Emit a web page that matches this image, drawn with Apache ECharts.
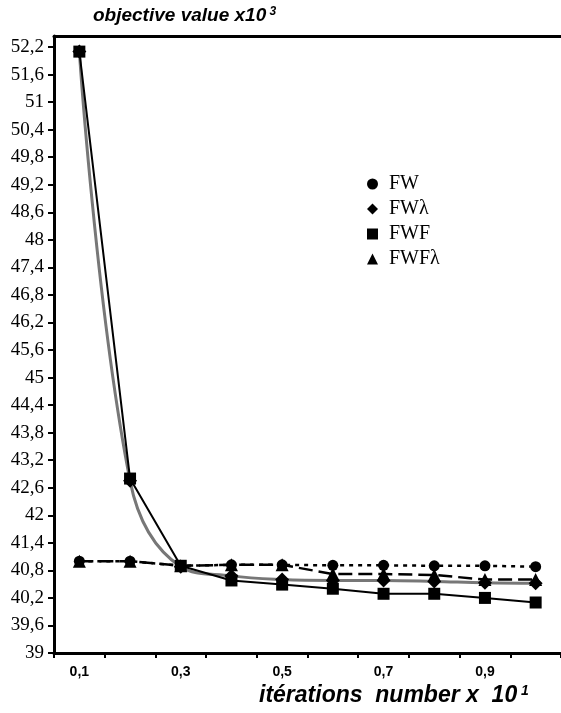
<!DOCTYPE html>
<html>
<head>
<meta charset="utf-8">
<script src="https://cdn.jsdelivr.net/npm/echarts@6/dist/echarts.min.js"></script>
<style>
html,body{margin:0;padding:0;background:#fff;}
#chart{width:561px;height:713px;}
</style>
</head>
<body>
<div id="chart"></div>
<script>
const categories = ['0,1','0,2','0,3','0,4','0,5','0,6','0,7','0,8','0,9','1'];
const fw    = [41.0, 41.0, 40.9, 40.92, 40.92, 40.91, 40.91, 40.9, 40.9, 40.88];
const fwL   = [52.1, 42.75, 40.88, 40.68, 40.6, 40.58, 40.58, 40.56, 40.53, 40.52];
const fwf   = [52.1, 42.8, 40.9, 40.58, 40.49, 40.4, 40.29, 40.29, 40.2, 40.1];
const fwfL  = [41.0, 41.0, 40.9, 40.92, 40.92, 40.72, 40.72, 40.7, 40.6, 40.6];
const yTicks = [39,39.6,40.2,40.8,41.4,42,42.6,43.2,43.8,44.4,45,45.6,46.2,46.8,47.4,48,48.6,49.2,49.8,50.4,51,51.6,52.2];
const seriesNames = ['FW','FW\u03bb','FWF','FWF\u03bb'];

const chart = echarts.init(document.getElementById('chart'), null, {renderer:'canvas'});
const fmt = v => {
  const r = Math.round(v*10)/10;
  const k = (r-39)/0.6;
  if (Math.abs(k-Math.round(k))>1e-6 || r>52.3) return '';
  return String(r).replace('.', ',');
};
const bi = {fontFamily:'Liberation Sans',fontWeight:'bold',fontStyle:'italic',color:'#000'};
chart.setOption({
  animation:false,
  backgroundColor:'#fff',
  title:[
    {text:'{a|objective value x10}{s| 3}', left:88, top:1,
     textStyle:{rich:{a:Object.assign({fontSize:19},bi), s:Object.assign({fontSize:12,verticalAlign:'top'},bi)}}},
    {text:'{a|it\u00e9rations  number x  10}{s| 1}', left:254, top:679,
     textStyle:{rich:{a:Object.assign({fontSize:23},bi), s:Object.assign({fontSize:14,verticalAlign:'top'},bi)}}}
  ],
  legend:{
    orient:'vertical', left:362, top:169, itemWidth:11, itemHeight:11, itemGap:5,
    textStyle:{fontFamily:'Liberation Serif',fontSize:20,color:'#000',padding:[0,0,0,6]},
    data:[
      {name:seriesNames[0],icon:'circle'},
      {name:seriesNames[1],icon:'diamond'},
      {name:seriesNames[2],icon:'rect'},
      {name:seriesNames[3],icon:'triangle'}
    ]
  },
  grid:{left:54, top:36, width:510, height:617, containLabel:false},
  xAxis:[
    {type:'category', data:categories, boundaryGap:true, position:'bottom',
     axisLine:{lineStyle:{color:'#000',width:3}},
     axisTick:{show:true, interval:0, length:5, lineStyle:{color:'#000',width:2}},
     axisLabel:{interval:1, margin:12, color:'#000', fontFamily:'Liberation Sans', fontWeight:'bold', fontSize:14},
     splitLine:{show:false}},
    {type:'category', data:categories, position:'top',
     axisLine:{lineStyle:{color:'#000',width:3}},
     axisTick:{show:false}, axisLabel:{show:false}, splitLine:{show:false}}
  ],
  yAxis:{
    type:'value', min:39, max:52.44, interval:0.6,
    axisLine:{show:true, lineStyle:{color:'#000',width:3}},
    axisTick:{show:true, length:6, lineStyle:{color:'#000',width:2}, customValues:yTicks},
    axisLabel:{margin:10, color:'#000', fontFamily:'Liberation Serif', fontSize:19, formatter:fmt, customValues:yTicks},
    splitLine:{show:false}
  },
  series:[
    {name:seriesNames[0], type:'line', data:fw, symbol:'circle', symbolSize:11,
     itemStyle:{color:'#000'}, lineStyle:{color:'#000', width:2.5, type:[4,5]}, z:2},
    {name:seriesNames[1], type:'line', data:fwL, symbol:'diamond', symbolSize:14, smooth:0.4,
     itemStyle:{color:'#000'}, lineStyle:{color:'#777', width:3}, z:3},
    {name:seriesNames[2], type:'line', data:fwf, symbol:'rect', symbolSize:12,
     itemStyle:{color:'#000'}, lineStyle:{color:'#000', width:2}, z:4},
    {name:seriesNames[3], type:'line', data:fwfL, symbol:'triangle', symbolSize:13,
     itemStyle:{color:'#000'}, lineStyle:{color:'#000', width:2.5, type:[14,6]}, z:5}
  ]
});
</script>
</body>
</html>
